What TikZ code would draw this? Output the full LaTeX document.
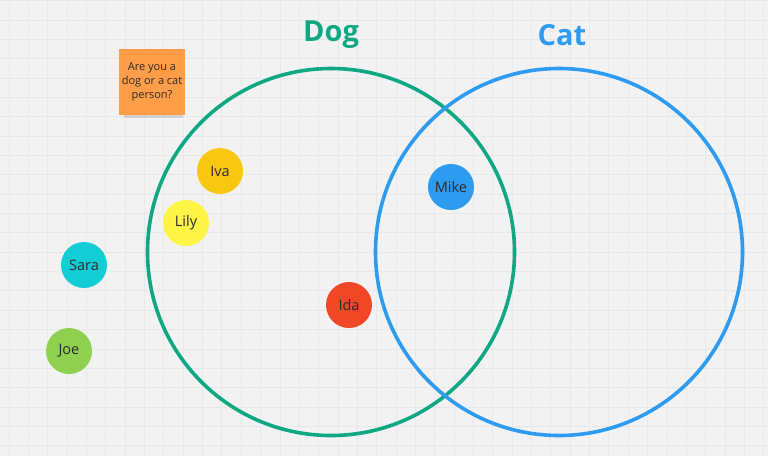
\documentclass[tikz,border=0pt]{standalone}
\usepackage{fontspec}
\setmainfont{Open Sans}
\definecolor{bgc}{HTML}{F2F2F2}
\definecolor{gridc}{HTML}{E8E8E8}
\definecolor{dogc}{HTML}{10A882}
\definecolor{catc}{HTML}{2D9BF0}
\definecolor{notec}{HTML}{FF9D48}
\definecolor{txtc}{HTML}{2B2B2B}
\definecolor{ivac}{HTML}{FAC710}
\definecolor{lilyc}{HTML}{FEF445}
\definecolor{sarac}{HTML}{12CDD4}
\definecolor{joec}{HTML}{8FD14F}
\definecolor{mikec}{HTML}{2D9BF0}
\definecolor{idac}{HTML}{F24726}
\begin{document}
\begin{tikzpicture}[x=1pt,y=-1pt,
  person/.style={circle, minimum size=46pt, inner sep=0pt, text=txtc, font=\fontsize{14.5}{16}\selectfont},
  venn/.style={line width=3.6pt},
  title/.style={font=\fontsize{29}{32}\selectfont\bfseries}]
\useasboundingbox (0,0) rectangle (768,456);
\fill[bgc] (0,0) rectangle (768,456);
% grid
\foreach \i in {0,...,40} {
  \draw[gridc, line width=0.6pt] (8.9+\i*19.35,0) -- (8.9+\i*19.35,456);
}
\foreach \j in {0,...,24} {
  \draw[gridc, line width=0.6pt] (0,0.5+\j*19.35) -- (768,0.5+\j*19.35);
}
% venn circles
\node[draw=dogc, venn, circle, minimum size=367pt, inner sep=0pt] (dog) at (331,252) {};
\node[draw=catc, venn, circle, minimum size=367pt, inner sep=0pt] (cat) at (559,252) {};
\node[title, text=dogc] (dogt) at (331,35) {Dog};
\node[title, text=catc] (catt) at (562,35) {Cat};
% sticky note
\fill[black!45, opacity=0.3] (124,112) rectangle (183,118);
\node[fill=notec, minimum width=66pt, minimum height=66pt, inner sep=0pt, text=txtc,
      align=center, font=\fontsize{11}{14}\selectfont] (note) at (152,82) {Are you a\\dog or a cat\\person?};
% people
\node[person, fill=ivac] (iva) at (220,171) {Iva};
\node[person, fill=lilyc] (lily) at (186,223) {Lily};
\node[person, fill=sarac] (sara) at (84,265) {Sara};
\node[person, fill=joec] (joe) at (69,351) {Joe};
\node[person, fill=mikec] (mike) at (451,187) {Mike};
\node[person, fill=idac] (ida) at (349,305) {Ida};
\end{tikzpicture}
\end{document}
